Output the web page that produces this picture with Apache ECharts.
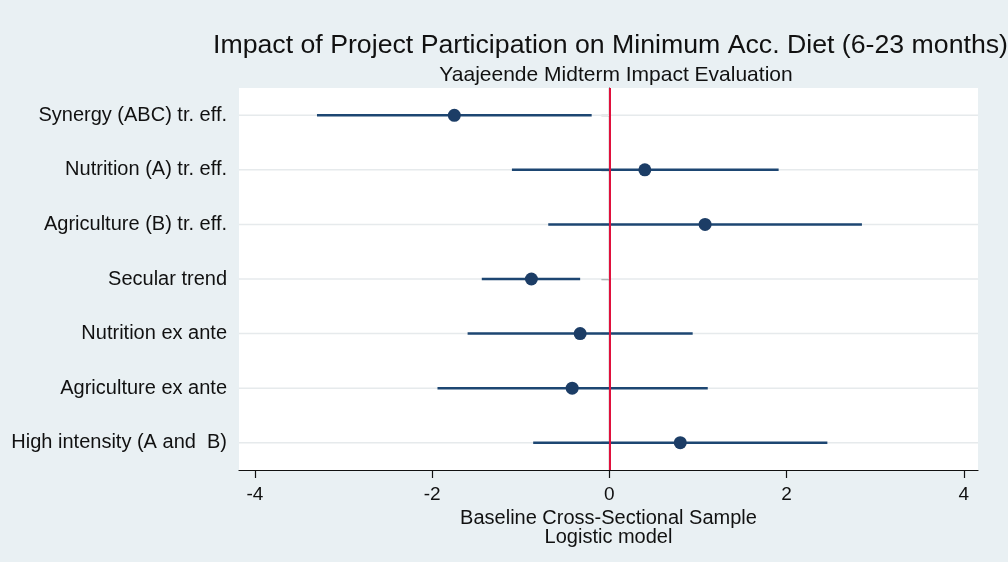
<!DOCTYPE html>
<html>
<head>
<meta charset="utf-8">
<script src="https://cdn.jsdelivr.net/npm/echarts@6/dist/echarts.min.js"></script>
<style>
html,body{margin:0;padding:0;background:#e9f0f3;}
#chart{width:1008px;height:562px;}
</style>
</head>
<body>
<div id="chart"></div>
<script>
const categories = ['Synergy (ABC) tr. eff.', 'Nutrition (A) tr. eff.', 'Agriculture (B) tr. eff.', 'Secular trend', 'Nutrition ex ante', 'Agriculture ex ante', 'High intensity (A and  B)'];
const estimates = [-1.75, 0.40, 1.08, -0.88, -0.33, -0.42, 0.80];
const lowerCI = [-3.30, -1.10, -0.69, -1.44, -1.60, -1.94, -0.86];
const upperCI = [-0.20, 1.91, 2.85, -0.33, 0.94, 1.11, 2.46];
const xTicks = [-4, -2, 0, 2, 4];

const font = 'Liberation Sans, Arial, sans-serif';
const chart = echarts.init(document.getElementById('chart'));

const ciData = categories.map((c, i) => [lowerCI[i], upperCI[i], i]);
const pointData = categories.map((c, i) => [estimates[i], c]);

chart.setOption({
  backgroundColor: '#e9f0f3',
  animation: false,
  textStyle: { fontFamily: font },
  title: [
    { text: 'Impact of Project Participation on Minimum Acc. Diet (6-23 months)', left: 208, top: 27,
      textStyle: { fontSize: 26.7, fontWeight: 'normal', color: '#111', fontFamily: font } },
    { text: 'Yaajeende Midterm Impact Evaluation', left: 611, top: 60, textAlign: 'center',
      textStyle: { fontSize: 21, fontWeight: 'normal', color: '#111', fontFamily: font } }
  ],
  grid: { left: 239, top: 88, right: 30, bottom: 92, show: true, backgroundColor: '#ffffff', borderWidth: 0 },
  xAxis: {
    type: 'value', min: -4.18, max: 4.16,
    axisLine: { show: true, lineStyle: { color: '#111', width: 1.2 } },
    axisTick: { show: true, length: 8, customValues: xTicks, lineStyle: { color: '#111', width: 1.2 } },
    axisLabel: { customValues: xTicks, fontSize: 19, color: '#111', margin: 15, fontFamily: font },
    splitLine: { show: false },
    name: 'Baseline Cross-Sectional Sample\nLogistic model',
    nameLocation: 'middle', nameGap: 30,
    nameTextStyle: { fontSize: 20, color: '#111', lineHeight: 19, verticalAlign: 'top', fontFamily: font }
  },
  yAxis: {
    type: 'category', data: categories, inverse: true,
    axisLine: { show: true, lineStyle: { color: '#111', width: 1.2 } },
    axisTick: { show: true, length: 8, alignWithLabel: true, lineStyle: { color: '#111', width: 1.2 } },
    axisLabel: { fontSize: 20, color: '#111', margin: 12, fontFamily: font },
    splitLine: { show: false }
  },
  series: [
    {
      type: 'custom',
      data: ciData,
      encode: { x: [0, 1], y: 2 },
      renderItem: function (params, api) {
        const idx = api.value(2);
        const a = api.coord([api.value(0), idx]);
        const b = api.coord([api.value(1), idx]);
        const cs = params.coordSys;
        return {
          type: 'group',
          children: [
            { type: 'line', shape: { x1: cs.x, y1: a[1], x2: cs.x + cs.width, y2: a[1] },
              style: { stroke: '#e6eaec', lineWidth: 1.5 } },
            { type: 'line', shape: { x1: a[0], y1: a[1], x2: b[0], y2: b[1] },
              style: { stroke: '#1d4672', lineWidth: 2.5 } }
          ]
        };
      },
      z: 2
    },
    {
      type: 'scatter',
      data: pointData,
      symbol: 'circle', symbolSize: 13,
      itemStyle: { color: '#1c3d66', opacity: 1 },
      z: 4,
      markLine: {
        silent: true, symbol: 'none', label: { show: false },
        lineStyle: { color: '#e0103c', width: 2, type: 'solid' },
        data: [{ xAxis: 0 }],
        z: 3
      }
    }
  ]
});
</script>
</body>
</html>
